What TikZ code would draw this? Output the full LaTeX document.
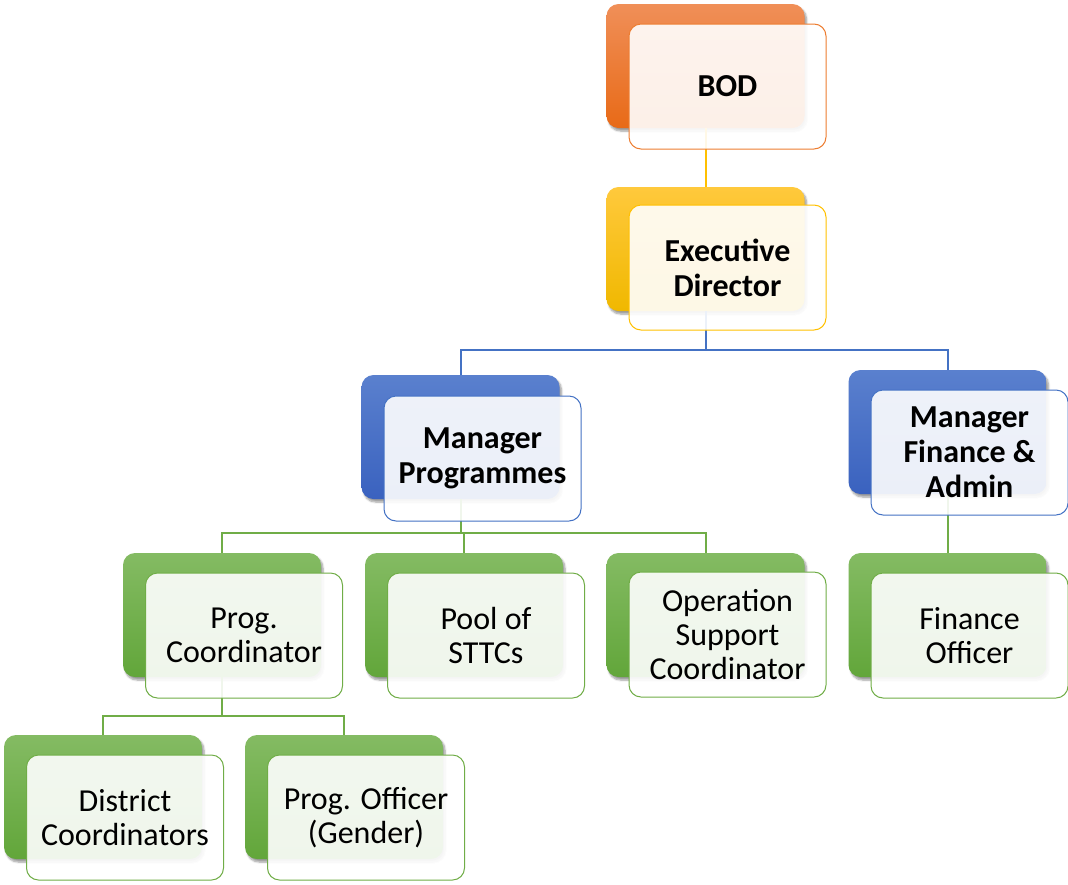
\documentclass[tikz,border=0pt]{standalone}
\usepackage{fontspec}
\setmainfont{Carlito}
\usetikzlibrary{shadows.blur}
\definecolor{oTop}{HTML}{F08F58}\definecolor{oBot}{HTML}{E86A17}\definecolor{oLine}{HTML}{ED7D31}
\definecolor{yTop}{HTML}{FFC93C}\definecolor{yBot}{HTML}{F0B800}\definecolor{yLine}{HTML}{FFC000}
\definecolor{bTop}{HTML}{5A80CE}\definecolor{bBot}{HTML}{3A62BF}\definecolor{bLine}{HTML}{4472C4}
\definecolor{gTop}{HTML}{84BB63}\definecolor{gBot}{HTML}{62A63A}\definecolor{gLine}{HTML}{70AD47}
\tikzset{
  backbox/.style={rectangle, rounded corners=12pt, minimum width=198pt, minimum height=124pt, inner sep=0pt,
    blur shadow={shadow xshift=2pt, shadow yshift=-3pt, shadow blur steps=6, shadow blur extra rounding=2pt}},
  frontbox/.style={rectangle, rounded corners=12pt, minimum width=197pt, minimum height=125pt, inner sep=0pt,
    line width=1pt, fill=white, fill opacity=0.9, text opacity=1, draw opacity=1, align=center,
    font=\fontsize{32}{34}\selectfont},
  orangeB/.style={backbox, top color=oTop, bottom color=oBot},
  yellowB/.style={backbox, top color=yTop, bottom color=yBot},
  blueB/.style={backbox, top color=bTop, bottom color=bBot},
  greenB/.style={backbox, top color=gTop, bottom color=gBot},
  orangeF/.style={frontbox, draw=oLine},
  yellowF/.style={frontbox, draw=yLine},
  blueF/.style={frontbox, draw=bLine},
  greenF/.style={frontbox, draw=gLine},
  boldtext/.style={font=\fontsize{32}{35}\selectfont\bfseries},
  link/.style={line width=2pt},
}
\begin{document}
\begin{tikzpicture}[x=1pt,y=-1pt]
\useasboundingbox (0,0) rectangle (1068,884);
% back boxes
\node[orangeB] (bodB) at (705.5,66) {};
\node[yellowB] (edB) at (705.5,249) {};
\node[blueB] (mpB) at (460.5,437) {};
\node[blueB] (mfaB) at (947.5,432) {};
\node[greenB] (pcB) at (222,615) {};
\node[greenB] (poolB) at (464,615) {};
\node[greenB] (oscB) at (705.5,615) {};
\node[greenB] (foB) at (947.5,615) {};
\node[greenB] (dcB) at (103,797) {};
\node[greenB] (poB) at (344,797) {};
% connectors
\draw[link, draw=yLine] (bodB.south) -- (edB.north);
\draw[link, draw=bLine] (edB.south) -- ++(0,39) coordinate (edJ) -| (mpB.north);
\draw[link, draw=bLine] (edJ) -| (mfaB.north);
\draw[link, draw=gLine] (mpB.south) -- ++(0,34) coordinate (mpJ) -| (pcB.north);
\draw[link, draw=gLine] (mpJ) -| (poolB.north);
\draw[link, draw=gLine] (mpJ) -| (oscB.north);
\draw[link, draw=gLine] (mfaB.south) -- (foB.north);
\draw[link, draw=gLine] (pcB.south) -- ++(0,39) coordinate (pcJ) -| (dcB.north);
\draw[link, draw=gLine] (pcJ) -| (poB.north);
% front boxes
\node[orangeF, boldtext] (bodF) at (727.5,86.5) {BOD};
\node[yellowF, boldtext] (edF) at (727.5,267.5) {Executive\\Director};
\node[blueF, boldtext] (mpF) at (482.5,458.5) {Manager\\Programmes};
\node[blueF, boldtext] (mfaF) at (969.5,452.5) {Manager\\Finance \&\\Admin};
\node[greenF] (pcF) at (244,635.5) {Prog.\\Coordinator};
\node[greenF] (poolF) at (486,635.5) {Pool of\\STTCs};
\node[greenF] (oscF) at (727.5,634.5) {Operation\\Support\\Coordinator};
\node[greenF] (foF) at (969.5,635.5) {Finance\\Officer};
\node[greenF] (dcF) at (125,817.5) {District\\Coordinators};
\node[greenF] (poF) at (366,817.5) {Prog. Officer\\(Gender)};
\end{tikzpicture}
\end{document}
